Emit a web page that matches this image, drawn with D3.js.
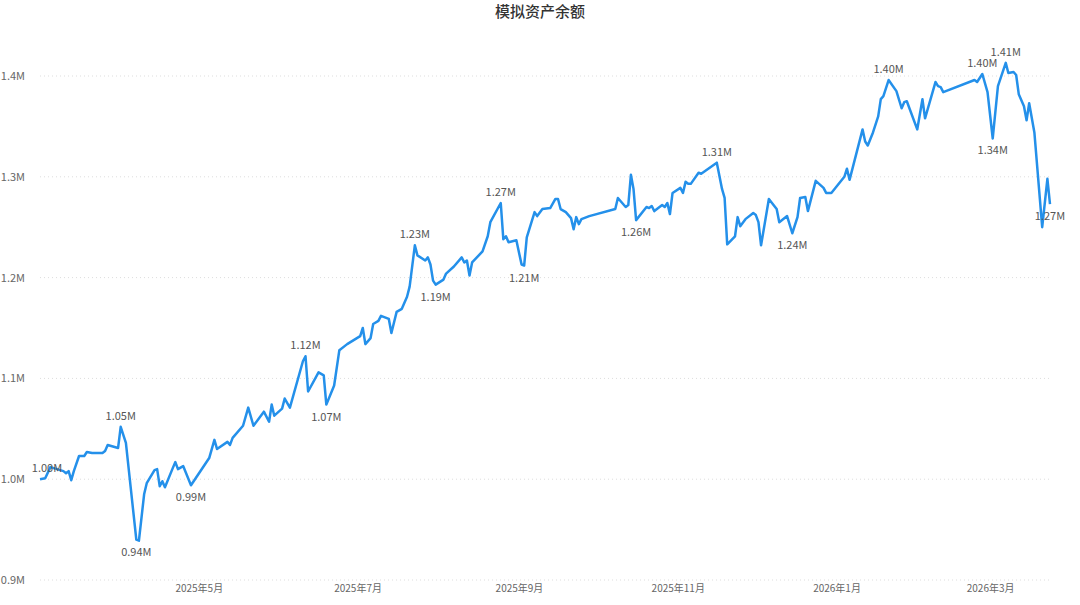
<!DOCTYPE html>
<html>
<head>
<meta charset="utf-8">
<script src="https://cdn.jsdelivr.net/npm/d3@7"></script>
<style>
  body { margin: 0; background: #fff; font-family: "Noto Sans CJK SC", "Noto Sans", sans-serif; }
</style>
</head>
<body>
<svg id="chart"></svg>
<script>
// data: day offset from 2025-03-01 and balance in millions
const startDate = new Date(2025, 2, 1);
const days = [0,2,4,9,10,11,12,13,15,17,18,20,24,25,26,30,31,33,37,38,40,41,44,45,46,47,48,51,52,53,55,58,65,67,68,72,73,74,78,80,82,86,88,89,90,93,94,96,101,102,103,107,109,110,113,115,118,123,124,125,127,128,130,131,134,135,137,139,141,142,144,145,148,149,150,151,152,155,156,159,162,163,164,165,166,170,172,173,177,178,179,180,183,185,186,187,190,191,193,196,198,199,200,202,204,205,206,207,208,211,221,222,225,226,227,228,229,233,234,235,236,239,240,241,242,243,246,247,248,249,250,253,254,260,262,263,264,267,268,269,271,274,275,276,277,280,283,284,287,289,291,292,294,295,298,301,302,304,309,310,311,316,317,318,320,322,323,324,326,329,331,332,333,337,339,340,344,345,346,347,359,360,362,364,366,368,371,372,374,375,376,378,379,380,382,385,387,388];
const balance = [1.000,1.001,1.012,1.008,1.006,1.008,0.999,1.008,1.023,1.023,1.027,1.026,1.026,1.028,1.034,1.031,1.052,1.036,0.940,0.939,0.985,0.996,1.009,1.010,0.993,0.998,0.992,1.011,1.017,1.010,1.013,0.994,1.021,1.039,1.030,1.037,1.034,1.041,1.053,1.071,1.053,1.067,1.057,1.074,1.063,1.070,1.080,1.071,1.117,1.122,1.087,1.106,1.103,1.074,1.093,1.128,1.134,1.142,1.150,1.134,1.140,1.154,1.157,1.162,1.159,1.145,1.166,1.169,1.181,1.191,1.232,1.222,1.217,1.220,1.213,1.197,1.193,1.198,1.204,1.211,1.220,1.215,1.217,1.202,1.215,1.226,1.241,1.255,1.274,1.238,1.241,1.235,1.237,1.213,1.212,1.240,1.265,1.261,1.268,1.269,1.278,1.278,1.268,1.265,1.259,1.248,1.260,1.253,1.258,1.261,1.268,1.279,1.270,1.272,1.302,1.288,1.257,1.270,1.269,1.271,1.266,1.272,1.270,1.274,1.263,1.284,1.289,1.284,1.295,1.293,1.293,1.304,1.303,1.314,1.288,1.279,1.233,1.241,1.260,1.251,1.258,1.264,1.262,1.255,1.232,1.278,1.268,1.255,1.261,1.244,1.260,1.279,1.280,1.266,1.296,1.289,1.284,1.284,1.300,1.308,1.297,1.347,1.335,1.331,1.344,1.360,1.377,1.380,1.396,1.385,1.368,1.374,1.375,1.347,1.377,1.358,1.394,1.390,1.389,1.384,1.396,1.394,1.402,1.384,1.338,1.390,1.413,1.403,1.404,1.401,1.382,1.370,1.356,1.373,1.344,1.250,1.298,1.273];
// labelled points: day offset of the point, label above ("up") or below ("down")
const labelDays = [0,31,37,58,102,110,144,152,177,186,229,260,289,326,362,366,371,388];
const labelPos = ["up","up","down","down","up","down","up","down","up","down","down","up","down","up","up","down","up","down"];
const yTicks = [0.9,1.0,1.1,1.2,1.3,1.4];
const xTicks = ["2025-05-01","2025-07-01","2025-09-01","2025-11-01","2026-01-01","2026-03-01"];

const W = 1080, H = 605;
const m = {top: 26, right: 30, bottom: 25, left: 40};
const svg = d3.select('#chart').attr('width', W).attr('height', H);

const data = days.map((d, i) => ({date: d3.timeDay.offset(startDate, d), v: balance[i]}));

const x = d3.scaleTime().domain([startDate, d3.timeDay.offset(startDate, d3.max(days))]).range([m.left, W - m.right]);
const y = d3.scaleLinear().domain([0.9, 1.45]).range([580, 580 - 0.55 * 1008]);

svg.append('text').attr('x', W / 2).attr('y', 17).attr('text-anchor', 'middle')
  .attr('font-size', 15).attr('font-weight', 500).attr('fill', '#333').text('模拟资产余额');

// grid + y labels
const gy = svg.append('g');
gy.selectAll('line').data(yTicks).join('line')
  .attr('x1', m.left).attr('x2', W - m.right).attr('y1', d => y(d)).attr('y2', d => y(d))
  .attr('stroke', '#ddd').attr('stroke-dasharray', '1,3');
gy.selectAll('text').data(yTicks).join('text')
  .attr('x', 25).attr('y', d => y(d) + 4).attr('text-anchor', 'end')
  .attr('font-size', 11).attr('fill', '#666').text(d => d.toFixed(1) + 'M');

const xAxis = d3.axisBottom(x).tickValues(xTicks.map(s => new Date(s + 'T00:00')))
  .tickFormat(d => d.getFullYear() + '年' + (d.getMonth() + 1) + '月').tickSize(0).tickPadding(5);
const ga = svg.append('g').attr('transform', 'translate(0,580)').call(xAxis);
ga.select('.domain').remove();
ga.selectAll('text').attr('font-size', 10).attr('fill', '#666').attr('font-family', '"Noto Sans CJK SC", sans-serif');

const line = d3.line().x(d => x(d.date)).y(d => y(d.v));
svg.append('path').datum(data).attr('d', line).attr('fill', 'none')
  .attr('stroke', '#2490ea').attr('stroke-width', 2.5).attr('stroke-linejoin', 'round');

const labelIdx = labelDays.map(d => days.indexOf(d));
svg.append('g').selectAll('text').data(labelIdx).join('text')
  .attr('x', (d, i) => x(data[d].date) + (i === 0 ? 7 : 0))
  .attr('y', (d, i) => y(data[d].v) + (labelPos[i] === 'up' ? -7 : 16))
  .attr('text-anchor', 'middle').attr('font-size', 11).attr('fill', '#555')
  .text(d => data[d].v.toFixed(2) + 'M');
</script>
</body>
</html>
